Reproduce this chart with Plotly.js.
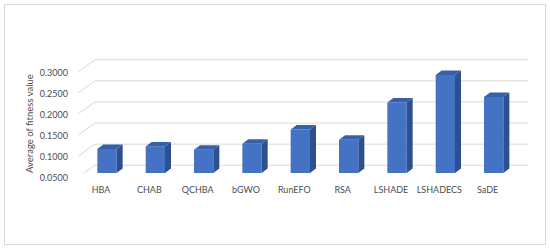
<!DOCTYPE html>
<html>
<head>
<meta charset="utf-8">
<script src="https://cdn.plot.ly/plotly-3.0.1.min.js"></script>
<style>
  html, body { margin: 0; padding: 0; background: #fff; }
  #wrap { position: relative; width: 550px; height: 251px; }
  #chart { width: 550px; height: 251px; }
  #frame {
    position: absolute; left: 4px; top: 4px; width: 540px; height: 239px;
    border: 1px solid #d9d9d9; pointer-events: none;
  }
</style>
</head>
<body>
<div id="wrap">
  <div id="chart"></div>
  <div id="frame"></div>
</div>
<script>
  const algorithms = ["HBA", "CHAB", "QCHBA", "bGWO", "RunEFO", "RSA", "LSHADE", "LSHADECS", "SaDE"];
  const avgFitness = [0.107, 0.113, 0.105, 0.119, 0.153, 0.129, 0.217, 0.282, 0.230];
  const yTicks = [0.05, 0.10, 0.15, 0.20, 0.25, 0.30];
  const yTitle = "Average of fitness value";

  // fake 3d: depth offsets in data units
  const halfW = 0.2;
  const depthX = 0.124;
  const depthY = 0.0107;
  const floor = 0.05;
  const wallX = -0.248;   // where the back wall starts
  const frontDrop = 0.0102;
  const backRise = 0.0183;
  const xMin = -0.6, xMax = 8.71;

  const idx = algorithms.map((_, i) => i);

  const shapes = [];

  yTicks.forEach((v) => {
    shapes.push({
      type: "path", xref: "x", yref: "y", layer: "below",
      path: `M ${xMin},${v - frontDrop} L ${wallX},${v + backRise} L ${xMax},${v + backRise}`,
      line: { color: "#d9d9d9", width: 1 },
    });
  });

  avgFitness.forEach((v, i) => {
    const l = i - halfW, r = i + halfW;
    shapes.push({
      type: "path", xref: "x", yref: "y", layer: "above",
      path: `M ${r},${floor} L ${r + depthX},${floor + depthY} L ${r + depthX},${v + depthY} L ${r},${v} Z`,
      fillcolor: "#2c5090", line: { width: 0 },
    });
    shapes.push({
      type: "path", xref: "x", yref: "y", layer: "above",
      path: `M ${l},${v} L ${l + depthX},${v + depthY} L ${r + depthX},${v + depthY} L ${r},${v} Z`,
      fillcolor: "#3760a8", line: { width: 0 },
    });
  });

  const trace = {
    x: idx,
    y: avgFitness,
    type: "bar",
    width: 0.4,
    marker: { color: "#4472c4", line: { width: 0 } },
    hoverinfo: "skip",
  };

  const font = { family: "Lato, 'Open Sans', sans-serif", size: 9, color: "#4d4d4d" };

  const layout = {
    width: 550,
    height: 251,
    margin: { l: 78, r: 22, t: 59.3, b: 78.3 },
    paper_bgcolor: "#fff",
    plot_bgcolor: "rgba(0,0,0,0)",
    showlegend: false,
    font,
    xaxis: {
      range: [xMin, xMax],
      tickvals: idx,
      ticktext: algorithms,
      showgrid: false,
      zeroline: false,
      showline: false,
      ticks: "",
      ticklabelstandoff: 10,
      ticklabelshift: -6,
      tickfont: font,
    },
    yaxis: {
      range: [0.05, 0.32],
      tickvals: yTicks,
      tickformat: ".4f",
      showgrid: false,
      zeroline: false,
      showline: false,
      ticks: "",
      ticklabelstandoff: 9,
      ticklabelshift: 5,
      tickfont: font,
    },
    // axis title sits lower than plotly would centre it, so use an annotation
    annotations: [{
      text: yTitle,
      textangle: -90,
      xref: "paper", yref: "paper",
      x: -0.109, y: 0.438,
      xanchor: "center", yanchor: "middle",
      showarrow: false,
      font: { ...font, size: 9.5 },
    }],
    shapes,
  };

  Plotly.newPlot("chart", [trace], layout, { displayModeBar: false, staticPlot: true });
</script>
</body>
</html>
